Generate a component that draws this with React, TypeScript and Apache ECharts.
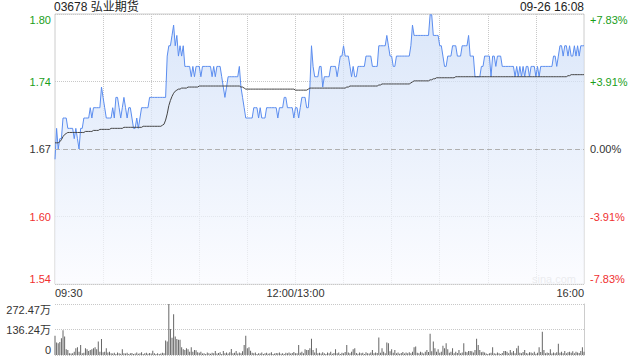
import React, { useEffect, useRef } from "react";
import * as echarts from "echarts";

const TITLE = "03678 弘业期货";
const DATE_TEXT = "09-26 16:08";
const WATERMARK = "sina.com";
const PREV_CLOSE = 1.67;

const priceTickLabels = ["1.54", "1.60", "1.67", "1.74", "1.80"];
const pctTickLabels = ["-7.83%", "-3.91%", "0.00%", "+3.91%", "+7.83%"];
const volTickLabels = ["0", "136.24万", "272.47万"];
const xTickLabels: Record<number, string> = { 0: "09:30", 150: "12:00/13:00", 330: "16:00" };

const prices = [
  1.66, 1.69, 1.67, 1.68, 1.68, 1.70, 1.70, 1.70, 1.69, 1.69,
  1.69, 1.69, 1.68, 1.69, 1.68, 1.67, 1.69, 1.69, 1.70, 1.70,
  1.70, 1.70, 1.71, 1.70, 1.71, 1.71, 1.71, 1.71, 1.71, 1.73,
  1.72, 1.71, 1.70, 1.70, 1.70, 1.70, 1.71, 1.70, 1.72, 1.72,
  1.71, 1.70, 1.71, 1.72, 1.71, 1.70, 1.71, 1.71, 1.70, 1.69,
  1.69, 1.70, 1.69, 1.70, 1.71, 1.71, 1.71, 1.71, 1.71, 1.72,
  1.72, 1.72, 1.72, 1.72, 1.72, 1.72, 1.72, 1.72, 1.72, 1.72,
  1.76, 1.77, 1.77, 1.78, 1.79, 1.77, 1.78, 1.76, 1.77, 1.76,
  1.77, 1.75, 1.75, 1.75, 1.75, 1.74, 1.75, 1.74, 1.75, 1.75,
  1.75, 1.74, 1.75, 1.75, 1.75, 1.75, 1.75, 1.75, 1.74, 1.75,
  1.74, 1.75, 1.75, 1.75, 1.74, 1.73, 1.72, 1.73, 1.74, 1.74,
  1.74, 1.74, 1.74, 1.74, 1.74, 1.75, 1.73, 1.72, 1.71, 1.70,
  1.70, 1.70, 1.70, 1.70, 1.71, 1.71, 1.71, 1.70, 1.71, 1.70,
  1.70, 1.70, 1.71, 1.71, 1.71, 1.71, 1.71, 1.71, 1.71, 1.70,
  1.71, 1.71, 1.71, 1.72, 1.72, 1.71, 1.71, 1.71, 1.71, 1.70,
  1.71, 1.71, 1.70, 1.71, 1.72, 1.72, 1.72, 1.71, 1.71, 1.73,
  1.77, 1.75, 1.74, 1.74, 1.74, 1.75, 1.75, 1.73, 1.74, 1.74,
  1.74, 1.74, 1.75, 1.75, 1.75, 1.75, 1.74, 1.75, 1.76, 1.76,
  1.77, 1.76, 1.76, 1.76, 1.75, 1.74, 1.75, 1.74, 1.74, 1.75,
  1.75, 1.75, 1.75, 1.75, 1.76, 1.76, 1.76, 1.76, 1.75, 1.75,
  1.75, 1.75, 1.77, 1.77, 1.77, 1.77, 1.77, 1.78, 1.77, 1.76,
  1.76, 1.75, 1.75, 1.76, 1.76, 1.76, 1.76, 1.76, 1.76, 1.76,
  1.76, 1.76, 1.77, 1.79, 1.78, 1.78, 1.78, 1.78, 1.78, 1.78,
  1.78, 1.78, 1.78, 1.78, 1.80, 1.80, 1.78, 1.78, 1.78, 1.78,
  1.77, 1.77, 1.76, 1.75, 1.75, 1.76, 1.76, 1.76, 1.77, 1.77,
  1.77, 1.76, 1.76, 1.76, 1.77, 1.77, 1.77, 1.77, 1.78, 1.76,
  1.76, 1.76, 1.74, 1.74, 1.74, 1.74, 1.75, 1.75, 1.76, 1.76,
  1.76, 1.76, 1.74, 1.76, 1.76, 1.75, 1.76, 1.76, 1.76, 1.75,
  1.75, 1.75, 1.75, 1.75, 1.75, 1.75, 1.75, 1.74, 1.75, 1.74,
  1.75, 1.74, 1.75, 1.74, 1.75, 1.75, 1.74, 1.75, 1.75, 1.75,
  1.74, 1.75, 1.74, 1.75, 1.75, 1.75, 1.75, 1.75, 1.75, 1.75,
  1.75, 1.76, 1.76, 1.75, 1.76, 1.77, 1.77, 1.76, 1.77, 1.77,
  1.76, 1.77, 1.76, 1.76, 1.77, 1.76, 1.77, 1.76, 1.77, 1.77,
  1.77,
];

const avgPrices = [
  1.676, 1.676, 1.676, 1.677, 1.679, 1.682, 1.684, 1.685, 1.686, 1.686,
  1.686, 1.686, 1.686, 1.686, 1.686, 1.686, 1.686, 1.686, 1.686, 1.687,
  1.687, 1.687, 1.687, 1.687, 1.688, 1.688, 1.688, 1.688, 1.689, 1.689,
  1.689, 1.689, 1.689, 1.689, 1.689, 1.690, 1.690, 1.690, 1.690, 1.690,
  1.690, 1.690, 1.690, 1.691, 1.691, 1.691, 1.691, 1.691, 1.691, 1.691,
  1.691, 1.691, 1.691, 1.691, 1.691, 1.692, 1.692, 1.692, 1.692, 1.692,
  1.692, 1.692, 1.692, 1.692, 1.692, 1.692, 1.692, 1.693, 1.694, 1.698,
  1.704, 1.712, 1.717, 1.721, 1.724, 1.726, 1.727, 1.728, 1.728, 1.729,
  1.729, 1.729, 1.729, 1.730, 1.730, 1.730, 1.730, 1.730, 1.730, 1.730,
  1.731, 1.731, 1.731, 1.731, 1.731, 1.731, 1.731, 1.731, 1.731, 1.731,
  1.731, 1.731, 1.731, 1.731, 1.731, 1.731, 1.731, 1.731, 1.731, 1.731,
  1.731, 1.731, 1.731, 1.731, 1.731, 1.731, 1.730, 1.730, 1.729, 1.728,
  1.728, 1.728, 1.728, 1.728, 1.728, 1.728, 1.728, 1.728, 1.728, 1.728,
  1.728, 1.728, 1.728, 1.728, 1.728, 1.728, 1.728, 1.728, 1.728, 1.728,
  1.728, 1.728, 1.728, 1.728, 1.728, 1.728, 1.728, 1.728, 1.728, 1.728,
  1.727, 1.727, 1.727, 1.727, 1.727, 1.727, 1.727, 1.727, 1.728, 1.729,
  1.729, 1.729, 1.729, 1.729, 1.729, 1.729, 1.729, 1.729, 1.729, 1.729,
  1.729, 1.729, 1.729, 1.729, 1.729, 1.729, 1.729, 1.729, 1.729, 1.729,
  1.729, 1.729, 1.730, 1.730, 1.731, 1.731, 1.731, 1.731, 1.731, 1.731,
  1.731, 1.731, 1.731, 1.731, 1.731, 1.731, 1.731, 1.731, 1.731, 1.731,
  1.731, 1.731, 1.732, 1.732, 1.733, 1.733, 1.733, 1.733, 1.733, 1.733,
  1.733, 1.733, 1.733, 1.733, 1.733, 1.733, 1.733, 1.733, 1.733, 1.733,
  1.733, 1.733, 1.734, 1.735, 1.736, 1.736, 1.736, 1.736, 1.736, 1.736,
  1.736, 1.736, 1.736, 1.736, 1.737, 1.737, 1.738, 1.738, 1.739, 1.739,
  1.739, 1.739, 1.739, 1.739, 1.739, 1.739, 1.739, 1.739, 1.739, 1.739,
  1.740, 1.740, 1.740, 1.740, 1.740, 1.740, 1.740, 1.740, 1.740, 1.740,
  1.740, 1.740, 1.740, 1.740, 1.740, 1.740, 1.740, 1.740, 1.740, 1.740,
  1.740, 1.740, 1.740, 1.740, 1.740, 1.740, 1.740, 1.740, 1.740, 1.740,
  1.740, 1.740, 1.740, 1.740, 1.740, 1.740, 1.740, 1.740, 1.740, 1.740,
  1.740, 1.740, 1.740, 1.740, 1.740, 1.740, 1.740, 1.740, 1.740, 1.740,
  1.740, 1.740, 1.740, 1.740, 1.740, 1.740, 1.740, 1.740, 1.740, 1.740,
  1.740, 1.740, 1.740, 1.740, 1.740, 1.740, 1.740, 1.740, 1.740, 1.740,
  1.741, 1.741, 1.742, 1.742, 1.742, 1.742, 1.742, 1.742, 1.742, 1.742,
  1.742,
];

// volume in 万 shares
const volumes = [
  103, 67, 63, 70, 90, 132, 99, 31, 27, 9,
  8, 9, 18, 36, 41, 18, 54, 9, 12, 36,
  31, 22, 27, 31, 36, 41, 31, 72, 18, 85,
  15, 18, 36, 13, 18, 10, 8, 12, 6, 14,
  9, 7, 31, 10, 8, 12, 6, 9, 11, 5,
  8, 13, 7, 10, 15, 6, 9, 12, 7, 11,
  8, 23, 9, 6, 10, 5, 8, 12, 9, 78,
  72, 272.47, 139, 92, 218, 99, 85, 81, 81, 41,
  31, 27, 36, 31, 18, 41, 18, 27, 25, 15,
  12, 18, 8, 10, 6, 14, 9, 7, 12, 9,
  22, 8, 11, 15, 6, 22, 10, 13, 8, 15,
  32, 9, 12, 22, 8, 14, 10, 20, 54, 103,
  36, 41, 23, 12, 9, 14, 6, 10, 8, 13,
  5, 9, 12, 7, 10, 15, 6, 8, 11, 9,
  13, 7, 10, 6, 12, 9, 14, 8, 11, 16,
  10, 9, 54, 12, 18, 9, 31, 27, 27, 36,
  87, 27, 14, 36, 10, 12, 8, 15, 10, 6,
  13, 9, 18, 7, 11, 31, 9, 14, 6, 12,
  10, 16, 54, 13, 9, 18, 31, 36, 11, 7,
  14, 9, 12, 6, 15, 10, 8, 13, 27, 9,
  14, 11, 94, 12, 36, 18, 9, 67, 63, 20,
  31, 12, 27, 9, 14, 7, 11, 16, 8, 13,
  10, 15, 9, 18, 41, 45, 12, 9, 18, 14,
  8, 18, 27, 16, 114, 20, 72, 36, 18, 31,
  12, 18, 49, 36, 63, 31, 12, 18, 36, 9,
  18, 11, 27, 10, 14, 63, 18, 15, 22, 22,
  20, 14, 27, 87, 54, 27, 15, 18, 13, 8,
  5, 9, 12, 41, 10, 7, 13, 9, 6, 11,
  22, 22, 18, 9, 27, 14, 22, 10, 36, 49,
  12, 9, 16, 27, 11, 8, 15, 13, 9, 18,
  7, 12, 41, 16, 124, 27, 9, 14, 11, 31,
  8, 13, 9, 15, 60, 12, 18, 10, 22, 9,
  15, 18, 12, 20, 9, 18, 14, 11, 22, 41,
  18,
];

const pad = (n: number) => (n < 10 ? "0" + n : "" + n);
const times: string[] = [];
for (let i = 0; i <= 150; i++) {
  const t = 570 + i;
  times.push(pad(Math.floor(t / 60)) + ":" + pad(t % 60));
}
for (let i = 1; i <= 180; i++) {
  const t = 780 + i;
  times.push(pad(Math.floor(t / 60)) + ":" + pad(t % 60));
}

const toPct = (p: number) => (p / PREV_CLOSE - 1) * 100;

const FONT = "'Liberation Sans', Arial, 'Noto Sans CJK SC', sans-serif";
const GREEN = "#1a9e1a";
const RED = "#f03030";

const signColor = (v: any) => {
  const n = Number(v);
  if (n > 0.01) return GREEN;
  if (n < -0.01) return RED;
  return "#333";
};

export default function App() {
  const ref = useRef<HTMLDivElement>(null);
  useEffect(() => {
    document.body.style.margin = "0";
    if (!ref.current) return;
    const chart = echarts.init(ref.current, undefined, { renderer: "svg" });
    const option: any = {
      animation: false,
      backgroundColor: "#fff",
      textStyle: { fontFamily: FONT },
      title: [
        {
          text: TITLE,
          left: 54,
          top: 1,
          padding: 0,
          textStyle: { fontSize: 12, fontWeight: "normal", color: "#222", fontFamily: FONT },
        },
        {
          text: DATE_TEXT,
          right: 56,
          top: 1,
          padding: 0,
          textStyle: { fontSize: 12, fontWeight: "normal", color: "#222", fontFamily: FONT },
        },
      ],
      graphic: [
        {
          type: "text",
          x: 532,
          y: 273,
          silent: true,
          style: { text: WATERMARK, fill: "#c8c8c8", fontSize: 11, fontFamily: FONT },
        },
      ],
      grid: [
        { left: 55, top: 14, width: 529, height: 270, show: true, borderColor: "#ccc", borderWidth: 1 },
        { left: 55, top: 304, width: 529, height: 51 },
      ],
      xAxis: [
        {
          type: "category",
          gridIndex: 0,
          data: times,
          boundaryGap: false,
          axisLine: { show: false },
          axisTick: { show: false },
          axisLabel: {
            interval: (i: number) => xTickLabels[i] !== undefined,
            formatter: (_v: string, i: number) => xTickLabels[i] ?? "",
            fontSize: 11,
            color: "#333",
            margin: 3,
            fontFamily: FONT,
            alignMinLabel: "left",
            alignMaxLabel: "right",
          },
          splitLine: {
            show: true,
            interval: (i: number) => i % 30 === 0 && i > 0 && i < 330,
            lineStyle: { type: "dotted", color: "#c8c8c8" },
          },
        },
        {
          type: "category",
          gridIndex: 1,
          data: times,
          boundaryGap: false,
          axisLine: { show: false },
          axisTick: { show: false },
          axisLabel: { show: false },
          splitLine: { show: false },
        },
      ],
      yAxis: [
        {
          type: "value",
          gridIndex: 0,
          position: "left",
          min: -7.83,
          max: 7.83,
          interval: 3.915,
          axisLine: { show: false },
          axisTick: { show: false },
          splitLine: { show: true, lineStyle: { type: "dotted", color: "#c8c8c8" } },
          axisLabel: {
            formatter: (_v: number, i: number) => priceTickLabels[i] ?? "",
            color: signColor,
            fontSize: 11,
            margin: 4,
            fontFamily: FONT,
            verticalAlignMinLabel: "bottom",
            verticalAlignMaxLabel: "top",
          },
        },
        {
          type: "value",
          gridIndex: 0,
          position: "right",
          min: -7.83,
          max: 7.83,
          interval: 3.915,
          axisLine: { show: false },
          axisTick: { show: false },
          splitLine: { show: false },
          axisLabel: {
            formatter: (_v: number, i: number) => pctTickLabels[i] ?? "",
            color: signColor,
            fontSize: 11,
            margin: 6,
            fontFamily: FONT,
            verticalAlignMinLabel: "bottom",
            verticalAlignMaxLabel: "top",
          },
        },
        {
          type: "value",
          gridIndex: 1,
          position: "left",
          min: 0,
          max: 272.47,
          interval: 136.235,
          axisLine: { show: false },
          axisTick: { show: false },
          splitLine: { show: true, lineStyle: { type: "dotted", color: "#c8c8c8" } },
          axisLabel: {
            formatter: (_v: number, i: number) => volTickLabels[i] ?? "",
            color: "#333",
            fontSize: 11,
            margin: 4,
            fontFamily: FONT,
            verticalAlignMinLabel: "bottom",
            verticalAlignMaxLabel: "top",
          },
        },
        {
          type: "value",
          gridIndex: 1,
          position: "right",
          min: 0,
          max: 272.47,
          axisLine: { show: true, lineStyle: { color: "#ccc", width: 1 } },
          axisTick: { show: false },
          splitLine: { show: false },
          axisLabel: { show: false },
        },
      ],
      series: [
        {
          type: "line",
          xAxisIndex: 0,
          yAxisIndex: 0,
          data: prices.map(toPct),
          showSymbol: false,
          symbol: "none",
          lineStyle: { color: "#5b8def", width: 1 },
          areaStyle: {
            origin: "start",
            color: new echarts.graphic.LinearGradient(0, 0, 0, 1, [
              { offset: 0, color: "rgb(203,220,247)" },
              { offset: 1, color: "rgb(250,251,255)" },
            ]),
          },
          markLine: {
            silent: true,
            symbol: "none",
            label: { show: false },
            lineStyle: { type: [5, 3], color: "#b0b0b0", width: 1 },
            data: [{ yAxis: 0 }],
          },
          z: 3,
        },
        {
          type: "line",
          xAxisIndex: 0,
          yAxisIndex: 0,
          data: avgPrices.map(toPct),
          showSymbol: false,
          symbol: "none",
          lineStyle: { color: "#444", width: 1 },
          z: 4,
        },
        {
          type: "bar",
          xAxisIndex: 1,
          yAxisIndex: 2,
          data: volumes,
          barWidth: 1,
          itemStyle: { color: "#666" },
        },
      ],
    };
    chart.setOption(option);
    return () => chart.dispose();
  }, []);
  return <div ref={ref} style={{ width: 640, height: 360 }} />;
}
